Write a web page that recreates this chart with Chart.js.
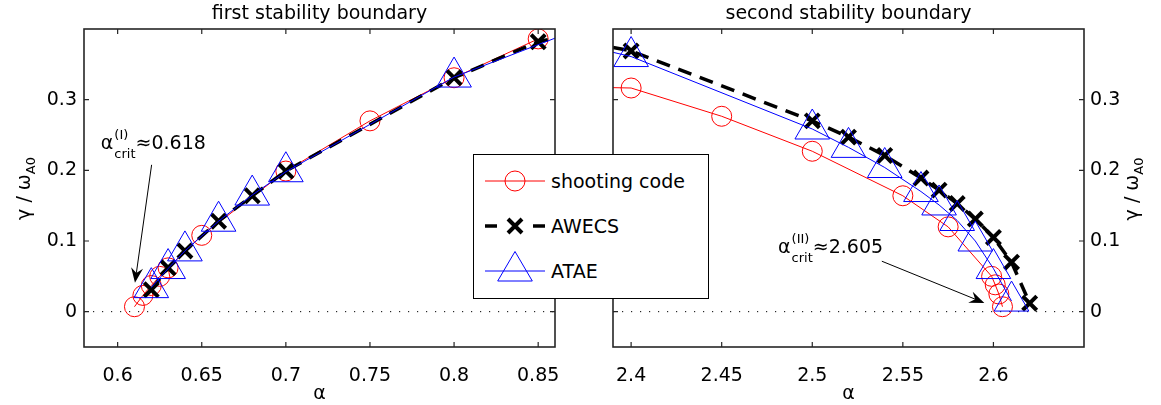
<!DOCTYPE html>
<html><head><meta charset="utf-8">
<script src="https://cdn.jsdelivr.net/npm/chart.js@4.4.0/dist/chart.umd.min.js"></script>
<style>
html,body{margin:0;padding:0;background:#fff;}
#wrap{position:relative;width:1161px;height:405px;overflow:hidden;background:#fff;}
canvas{position:absolute;top:0;}
#c1{left:0;} #c2{left:580px;}
#legend{position:absolute;left:473px;top:154px;width:236px;height:145px;box-sizing:border-box;border:1.5px solid #000;background:#fff;z-index:5;font-family:'DejaVu Sans',sans-serif;font-size:19px;color:#000;}
.row{position:absolute;left:0;height:40px;width:100%;}
.row svg{position:absolute;left:10.5px;top:0;}
.row span{position:absolute;left:77px;top:0;line-height:40px;white-space:nowrap;}
</style></head>
<body>
<div id="wrap">
<canvas id="c1" width="580" height="405"></canvas>
<canvas id="c2" width="581" height="405"></canvas>
<div id="legend">
 <div class="row" style="top:6.2px"><svg width="62" height="40"><line x1="0" y1="20" x2="60" y2="20" stroke="#f00" stroke-width="1"/><circle cx="30" cy="20" r="10" fill="none" stroke="#f00" stroke-width="1"/></svg><span>shooting code</span></div>
 <div class="row" style="top:51.2px"><svg width="62" height="40"><line x1="0" y1="20" x2="12" y2="20" stroke="#000" stroke-width="3.5"/><line x1="48" y1="20" x2="60" y2="20" stroke="#000" stroke-width="3.5"/><path d="M23,13 L37,27 M37,13 L23,27" stroke="#000" stroke-width="4" fill="none"/></svg><span>AWECS</span></div>
 <div class="row" style="top:96.2px"><svg width="62" height="40"><line x1="0" y1="20" x2="60" y2="20" stroke="#00f" stroke-width="1"/><polygon points="30,0.5 12.7,30 47.3,30" fill="none" stroke="#00f" stroke-width="1"/></svg><span>ATAE</span></div>
</div>
</div>
<script>
// ---------- data: first stability boundary ----------
const xTicks1 = [0.6, 0.65, 0.7, 0.75, 0.8, 0.85];
const shootingAlpha1 = [0.61, 0.615, 0.62, 0.625, 0.63, 0.65, 0.70, 0.75, 0.80, 0.85];
const shootingGamma1 = [0.007, 0.023, 0.037, 0.050, 0.062, 0.108, 0.199, 0.270, 0.331, 0.386];
const awecsAlpha1 = [0.62, 0.63, 0.64, 0.66, 0.68, 0.70, 0.80, 0.85];
const awecsGamma1 = [0.031, 0.062, 0.086, 0.128, 0.164, 0.199, 0.331, 0.382];
const awecsEdge1 = [0.86, 0.387];
const ataeAlpha1 = [0.62, 0.63, 0.64, 0.66, 0.68, 0.70, 0.80];
const ataeGamma1 = [0.034, 0.061, 0.086, 0.128, 0.165, 0.198, 0.332];
const ataeEdge1 = [0.86, 0.387];

// ---------- data: second stability boundary ----------
const xTicks2 = [2.4, 2.45, 2.5, 2.55, 2.6];
const shootingAlpha2 = [2.40, 2.45, 2.50, 2.55, 2.575, 2.599, 2.601, 2.603, 2.605];
const shootingGamma2 = [0.3165, 0.2765, 0.227, 0.164, 0.120, 0.050, 0.038, 0.025, 0.007];
const shootingEdge2 = [2.39, 0.317];
const awecsAlpha2 = [2.40, 2.50, 2.52, 2.54, 2.56, 2.57, 2.58, 2.59, 2.60, 2.61, 2.62];
const awecsGamma2 = [0.369, 0.270, 0.247, 0.221, 0.189, 0.172, 0.153, 0.131, 0.105, 0.070, 0.012];
const awecsEdge2 = [2.39, 0.374];
const ataeAlpha2 = [2.40, 2.50, 2.52, 2.54, 2.56, 2.57, 2.58, 2.59, 2.60, 2.61];
const ataeGamma2 = [0.361, 0.2585, 0.2325, 0.204, 0.170, 0.151, 0.129, 0.100, 0.061, 0.015];
const ataeEdge2 = [2.39, 0.367];

const yTicks = [0, 0.1, 0.2, 0.3];

// annotations (data coordinates)
const critI  = {sup:'(I)',  val:'0.618', text:[0.590, 0.2372], from:[0.6202, 0.2078], to:[0.6103, 0.0408]};
const critII = {sup:'(II)', val:'2.605', text:[2.4811, 0.0905], from:[2.5384, 0.0714], to:[2.595, 0.0124]};

const FONT = "'DejaVu Sans', sans-serif";
Chart.defaults.font.family = FONT;
Chart.defaults.font.size = 19;
Chart.defaults.color = '#000';

function pts(xs, ys){ return xs.map((x,i)=>({x:x, y:ys[i]})); }
function edgePt(e){ return {x:e[0], y:e[1], edge:true}; }

function datasets(sh, aw, at){
  const r = (R) => (c) => (c.raw && c.raw.edge ? 0 : R);
  return [
    {label:'shooting code', data:sh, borderColor:'#ff0000', borderWidth:1, pointStyle:'circle',
     pointRadius:r(10), pointBorderColor:'#ff0000', pointBackgroundColor:'rgba(0,0,0,0)', pointBorderWidth:1,
     tension:0, order:3},
    {label:'AWECS', data:aw, borderColor:'#000', borderWidth:3.5, borderDash:[14,9], pointStyle:'crossRot',
     pointRadius:r(10), pointBorderColor:'#000', pointBackgroundColor:'#000', pointBorderWidth:4, order:2},
    {label:'ATAE', data:at, borderColor:'#0000ff', borderWidth:1, pointStyle:'triangle',
     pointRadius:r(20), pointBorderColor:'#0000ff', pointBackgroundColor:'rgba(0,0,0,0)', pointBorderWidth:1, order:1}
  ];
}

function drawCrit(ctx, x, y, a){
  ctx.save();
  ctx.fillStyle = '#000'; ctx.textBaseline = 'middle'; ctx.textAlign = 'left';
  ctx.font = '19px ' + FONT;
  ctx.fillText('α', x, y);
  const w1 = ctx.measureText('α').width + 1;
  ctx.font = '13px ' + FONT;
  ctx.fillText(a.sup, x + w1, y - 8.5);
  ctx.fillText('crit', x + w1, y + 11);
  const w2 = Math.max(ctx.measureText(a.sup).width, ctx.measureText('crit').width);
  ctx.font = '19px ' + FONT;
  ctx.fillText('≈' + a.val, x + w1 + w2, y);
  ctx.restore();
}

function drawArrow(ctx, x1, y1, x2, y2){
  const ang = Math.atan2(y2 - y1, x2 - x1);
  const L = 15, W = 6, N = 10;
  const c = Math.cos(ang), s = Math.sin(ang);
  ctx.save();
  ctx.strokeStyle = '#000'; ctx.fillStyle = '#000'; ctx.lineWidth = 1;
  ctx.beginPath(); ctx.moveTo(x1, y1); ctx.lineTo(x2 - N * c, y2 - N * s); ctx.stroke();
  ctx.beginPath();
  ctx.moveTo(x2, y2);
  ctx.lineTo(x2 - L * c - W * s, y2 - L * s + W * c);
  ctx.lineTo(x2 - N * c, y2 - N * s);
  ctx.lineTo(x2 - L * c + W * s, y2 - L * s - W * c);
  ctx.closePath(); ctx.fill();
  ctx.restore();
}

function drawYLabel(ctx, cx, cy){
  ctx.save();
  ctx.fillStyle = '#000'; ctx.textBaseline = 'middle'; ctx.textAlign = 'left';
  ctx.translate(cx, cy); ctx.rotate(-Math.PI / 2);
  ctx.font = '19px ' + FONT;
  const main = 'γ / ω';
  const w1 = ctx.measureText(main).width;
  ctx.font = '13px ' + FONT;
  const w2 = ctx.measureText('A0').width;
  const x0 = -(w1 + w2) / 2;
  ctx.font = '19px ' + FONT;
  ctx.fillText(main, x0, 0);
  ctx.font = '13px ' + FONT;
  ctx.fillText('A0', x0 + w1, 7);
  ctx.restore();
}

const framePlugin = {
  id: 'frame',
  beforeDatasetsDraw(chart){
    const {ctx, chartArea: a, scales: {y}} = chart;
    const py = y.getPixelForValue(0);
    ctx.save();
    ctx.strokeStyle = '#000'; ctx.lineWidth = 1; ctx.setLineDash([1.2, 7.8]);
    ctx.beginPath(); ctx.moveTo(a.left, py); ctx.lineTo(a.right, py); ctx.stroke();
    ctx.restore();
  },
  afterDraw(chart, args, opts){
    const {ctx, chartArea: a, scales: {x, y}} = chart;
    ctx.save();
    ctx.strokeStyle = '#262626'; ctx.lineWidth = 1.6;
    ctx.strokeRect(a.left, a.top, a.right - a.left, a.bottom - a.top);
    ctx.lineWidth = 1.2;
    ctx.beginPath();
    x.ticks.forEach(t => {
      const p = x.getPixelForValue(t.value);
      ctx.moveTo(p, a.bottom); ctx.lineTo(p, a.bottom - 5);
      ctx.moveTo(p, a.top); ctx.lineTo(p, a.top + 5);
    });
    y.ticks.forEach(t => {
      const p = y.getPixelForValue(t.value);
      ctx.moveTo(a.left, p); ctx.lineTo(a.left + 5, p);
      ctx.moveTo(a.right, p); ctx.lineTo(a.right - 5, p);
    });
    ctx.stroke();
    ctx.restore();
    const an = opts.annot;
    drawCrit(ctx, x.getPixelForValue(an.text[0]), y.getPixelForValue(an.text[1]), an);
    drawArrow(ctx, x.getPixelForValue(an.from[0]), y.getPixelForValue(an.from[1]),
                   x.getPixelForValue(an.to[0]), y.getPixelForValue(an.to[1]));
    drawYLabel(ctx, opts.ylx, opts.yly);
  }
};

function makeChart(id, cfg){
  return new Chart(document.getElementById(id), {
    type: 'line',
    data: {datasets: cfg.datasets},
    plugins: [framePlugin],
    options: {
      responsive: false, animation: false, events: [],
      layout: {padding: cfg.padding},
      plugins: {
        legend: {display: false}, tooltip: {enabled: false},
        title: {display: true, text: cfg.title, fullSize: false, color: '#000',
                font: {size: 19, weight: 'normal'}, padding: {top: 3, bottom: 3.2}},
        frame: {annot: cfg.annot, ylx: cfg.ylx, yly: cfg.yly}
      },
      scales: {
        x: {type: 'linear', min: cfg.xmin, max: cfg.xmax,
            grid: {display: false, drawTicks: false}, border: {display: false},
            afterBuildTicks: s => { s.ticks = cfg.xticks.map(v => ({value: v})); },
            afterFit: s => { s.height = 58; },
            ticks: {padding: 18, autoSkip: false, maxRotation: 0, color: '#000', font: {size: 19},
                    callback: v => String(v)},
            title: {display: true, text: 'α', color: '#000', font: {size: 19}, padding: {top: 0, bottom: 0}}},
        y: {type: 'linear', position: cfg.ypos, min: -0.05, max: 0.4,
            grid: {display: false, drawTicks: false}, border: {display: false},
            afterBuildTicks: s => { s.ticks = yTicks.map(v => ({value: v})); },
            afterFit: s => { s.width = cfg.yw; },
            ticks: {padding: cfg.ypad, color: '#000', font: {size: 19}, callback: v => String(v)}}
      }
    }
  });
}

makeChart('c1', {
  title: 'first stability boundary',
  datasets: datasets(
    pts(shootingAlpha1, shootingGamma1),
    pts(awecsAlpha1, awecsGamma1).concat([edgePt(awecsEdge1)]),
    pts(ataeAlpha1, ataeGamma1).concat([edgePt(ataeEdge1)])),
  padding: {left: 0, right: 25, top: 0, bottom: 0},
  xmin: 0.58, xmax: 0.86, xticks: xTicks1,
  ypos: 'left', yw: 84, ypad: 7,
  annot: critI, ylx: 25, yly: 188.5
});

makeChart('c2', {
  title: 'second stability boundary',
  datasets: datasets(
    [edgePt(shootingEdge2)].concat(pts(shootingAlpha2, shootingGamma2)),
    [edgePt(awecsEdge2)].concat(pts(awecsAlpha2, awecsGamma2)),
    [edgePt(ataeEdge2)].concat(pts(ataeAlpha2, ataeGamma2))),
  padding: {left: 33, right: 0, top: 0, bottom: 0},
  xmin: 2.39, xmax: 2.65, xticks: xTicks2,
  ypos: 'right', yw: 77, ypad: 6,
  annot: critII, ylx: 553, yly: 189
});
</script>
</body></html>
